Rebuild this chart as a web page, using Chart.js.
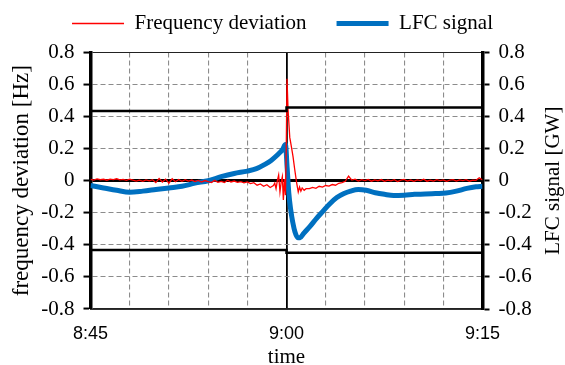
<!DOCTYPE html>
<html>
<head>
<meta charset="utf-8">
<script src="https://cdn.jsdelivr.net/npm/chart.js@4.4.1/dist/chart.umd.min.js"></script>
<style>
  html, body { margin: 0; padding: 0; background: #fff; }
  #wrap { width: 565px; height: 365px; }
</style>
</head>
<body>
<div id="wrap"><canvas id="lfcChart"></canvas></div>
<script>
// time in minutes after 8:45
const freqTime = [
  0, 0.25, 0.5, 0.75, 1, 1.25, 1.5, 1.75, 2, 2.25, 2.5, 2.75, 3, 3.25, 3.5, 3.75,
  4, 4.25, 4.5, 4.75, 5, 5.25, 5.5, 5.75, 6, 6.25, 6.5, 6.75, 7, 7.25, 7.5, 7.75,
  8, 8.25, 8.5, 8.75, 9, 9.25, 9.5, 9.75, 10, 10.25, 10.5, 10.75, 11, 11.25, 11.5, 11.75,
  12, 12.25, 12.5, 12.75, 13, 13.25, 13.5, 13.75, 14,
  14.1, 14.2, 14.3, 14.4, 14.5, 14.6, 14.68, 14.76, 14.84, 14.92, 14.98, 15.04, 15.12,
  15.25, 15.38, 15.5, 15.63, 15.77, 15.9, 16, 16.1, 16.2, 16.35, 16.5,
  16.75, 17, 17.25, 17.5, 17.75, 18, 18.25, 18.5, 18.75, 19, 19.25, 19.5, 19.75,
  20, 20.25, 20.5, 20.75, 21, 21.25, 21.5, 21.75, 22, 22.25, 22.5, 22.75, 23, 23.25,
  23.5, 23.75, 24, 24.25, 24.5, 24.75, 25, 25.25, 25.5, 25.75, 26, 26.25, 26.5, 26.75,
  27, 27.25, 27.5, 27.75, 28, 28.25, 28.5, 28.75, 29, 29.25, 29.5, 29.75, 30
];
const freqValue = [
  0.008, 0.004, 0.011, 0.006, 0.009, 0.003, 0.010, 0.007, 0.012, 0.005, 0.008, 0.002, 0.009, 0.004, -0.002, 0.003,
  -0.004, 0.005, -0.001, 0.006, -0.012, 0.014, -0.008, 0.010, -0.015, 0.012, -0.006, 0.008, -0.004, 0.006, -0.002, 0.004,
  -0.006, 0.002, -0.008, 0.001, -0.005, -0.012, 0.002, -0.010, -0.004, -0.011, 0.003, -0.008, -0.002, -0.010, -0.006, -0.013,
  -0.008, -0.018, -0.012, -0.028, -0.020, -0.035, -0.025, -0.042, -0.030,
  -0.015, -0.050, 0.000, 0.035, -0.070, -0.005, 0.025, -0.120, 0.010, -0.090, 0.200, 0.635, 0.440,
  0.270, 0.210, 0.150, 0.070, -0.010, -0.070, -0.040, -0.065, -0.045, -0.060, -0.050,
  -0.050, -0.042, -0.048, -0.035, -0.040, -0.030, -0.034, -0.024, -0.028, -0.016, -0.012, -0.004, 0.028,
  0.004, 0.010, -0.002, 0.006, 0.001, 0.008, -0.003, 0.005, 0.000, 0.007, -0.004, 0.004, -0.001, 0.006,
  -0.005, 0.003, 0.008, -0.002, 0.004, -0.004, 0.005, 0.001, 0.009, -0.003, 0.004, -0.002, 0.006, 0.000,
  0.005, -0.004, 0.003, 0.007, -0.002, 0.005, 0.001, 0.006, -0.003, 0.004, 0.002, 0.018, 0.004
];

const lfcTime = [
  0, 1, 2, 3, 4, 5, 6, 7, 8, 9, 10, 11, 12, 12.7, 13.3, 13.8, 14.3, 14.7, 14.92,
  15.05, 15.18, 15.32, 15.48, 15.65, 15.86, 16.05, 16.3, 16.8, 17.3, 17.8, 18.3, 18.85,
  19.4, 19.9, 20.5, 21.1, 21.8, 22.5, 23.2, 24, 24.8, 25.6, 26.4, 27.2, 28, 28.8, 29.5, 30
];
const lfcValue = [
  -0.030, -0.045, -0.060, -0.072, -0.065, -0.055, -0.045, -0.035, -0.015, 0.000, 0.025, 0.045, 0.060, 0.075, 0.100, 0.125, 0.160, 0.195, 0.225,
  0.080, -0.080, -0.180, -0.260, -0.320, -0.355, -0.355, -0.330, -0.285, -0.235, -0.190, -0.145, -0.105,
  -0.080, -0.065, -0.055, -0.060, -0.075, -0.085, -0.092, -0.090, -0.085, -0.083, -0.080, -0.077, -0.065, -0.048, -0.038, -0.035
];

// dead-band limits, step at 9:00
const limitTime = [0, 15, 15, 30];
const upperLimit = [0.435, 0.435, 0.457, 0.457];
const lowerLimit = [-0.432, -0.432, -0.449, -0.449];

const xTickLabels = { 0: '8:45', 15: '9:00', 30: '9:15' };

function pairs(t, v) {
  return t.map((x, i) => ({ x: x, y: v[i] }));
}

const serif = '"Liberation Serif", "Times New Roman", serif';
const sans = '"Liberation Sans", Arial, sans-serif';

const rightTitle = {
  id: 'rightTitle',
  afterDraw(chart) {
    const s = chart.scales.y2;
    const a = chart.chartArea;
    const ctx = chart.ctx;
    ctx.save();
    ctx.translate(s.right - 12, (a.top + a.bottom) / 2);
    ctx.rotate(-Math.PI / 2);
    ctx.font = '21px ' + serif;
    ctx.fillStyle = '#000';
    ctx.textAlign = 'center';
    ctx.textBaseline = 'middle';
    ctx.fillText('LFC signal [GW]', 0, 0);
    ctx.restore();
  }
};

function yGridColor(c) {
  const v = c.tick ? c.tick.value : 1;
  if (Math.abs(v) < 1e-6) return '#000';
  if (Math.abs(Math.abs(v) - 0.8) < 1e-6) return '#222';
  return '#8c8c8c';
}

const cfg = {
  type: 'line',
  data: {
    datasets: [
      {
        label: 'upper',
        data: pairs(limitTime, upperLimit),
        borderColor: '#000',
        borderWidth: 2.5,
        pointRadius: 0,
      },
      {
        label: 'lower',
        data: pairs(limitTime, lowerLimit),
        borderColor: '#000',
        borderWidth: 2.5,
        pointRadius: 0,
      },
      {
        label: 'Frequency deviation',
        data: pairs(freqTime, freqValue),
        borderColor: '#ff0000',
        backgroundColor: '#ff0000',
        borderWidth: 1.3,
        pointRadius: 0,
      },
      {
        label: 'LFC signal',
        data: pairs(lfcTime, lfcValue),
        borderColor: '#0070c0',
        backgroundColor: '#0070c0',
        borderWidth: 5,
        pointRadius: 0,
        cubicInterpolationMode: 'monotone',
        yAxisID: 'y2',
      },
    ],
  },
  options: {
    responsive: true,
    maintainAspectRatio: false,
    animation: false,
    layout: { padding: { top: -17 } },
    plugins: {
      tooltip: { enabled: false },
      legend: {
        display: true,
        position: 'top',
        labels: {
          filter: (item) => item.text !== 'upper' && item.text !== 'lower',
          boxWidth: 52,
          boxHeight: 0,
          padding: 30,
          color: '#000',
          font: { family: serif, size: 21 },
        },
      },
      // empty spacer between legend and plot
      subtitle: {
        display: true,
        text: '',
        weight: 100,
        padding: 0,
        font: { size: 7 },
      },
    },
    scales: {
      x: {
        type: 'linear',
        min: 0,
        max: 30,
        afterFit: (s) => { s.height = 56; },
        ticks: {
          stepSize: 3,
          autoSkip: false,
          maxRotation: 0,
          padding: 14,
          color: '#000',
          font: { family: sans, size: 18 },
          callback: (v) => (xTickLabels[v] !== undefined ? xTickLabels[v] : ''),
        },
        grid: {
          drawTicks: false,
          color: (c) => (c.tick && c.tick.value === 15 ? '#000' : '#8c8c8c'),
          lineWidth: (c) => (c.tick && c.tick.value === 15 ? 1.8 : 1.1),
        },
        border: {
          display: true,
          color: '#333',
          width: 1,
          dash: (c) => (c.tick && c.tick.value !== 15 ? [5, 3] : []),
        },
        title: {
          display: true,
          text: 'time',
          color: '#000',
          font: { family: serif, size: 21 },
          padding: -5,
        },
      },
      y: {
        min: -0.8,
        max: 0.8,
        afterFit: (s) => { s.width = 90.5; },
        ticks: {
          stepSize: 0.2,
          padding: 9,
          color: '#000',
          font: { family: serif, size: 21 },
          callback: (v) => (Math.abs(v) < 1e-6 ? '0' : v.toFixed(1)),
        },
        grid: {
          color: yGridColor,
          lineWidth: (c) => (c.tick && Math.abs(c.tick.value) < 1e-6 ? 3 : 1.1),
          tickColor: '#000',
          tickWidth: 2,
          tickLength: 7,
          tickBorderDash: [],
        },
        border: {
          display: true,
          color: '#000',
          width: 3.5,
          dash: (c) => {
            if (!c.tick) return [];
            const v = Math.abs(c.tick.value);
            return (v < 1e-6 || Math.abs(v - 0.8) < 1e-6) ? [] : [5, 3];
          },
        },
        title: {
          display: true,
          text: 'frequency deviation [Hz]',
          color: '#000',
          font: { family: serif, size: 23 },
          padding: { top: 8, bottom: 0 },
        },
      },
      y2: {
        position: 'right',
        min: -0.8,
        max: 0.8,
        afterFit: (s) => { s.width = 82.5; },
        ticks: {
          stepSize: 0.2,
          padding: 9,
          color: '#000',
          font: { family: serif, size: 21 },
          callback: (v) => (Math.abs(v) < 1e-6 ? '0' : v.toFixed(1)),
        },
        grid: {
          drawOnChartArea: false,
          tickColor: '#000',
          tickWidth: 2,
          tickLength: 7,
        },
        border: { display: true, color: '#000', width: 3.5 },
      },
    },
  },
  plugins: [rightTitle],
};

const lfcCtx = document.getElementById('lfcChart');
window.lfcChart = new Chart(lfcCtx, cfg);
</script>
</body>
</html>
